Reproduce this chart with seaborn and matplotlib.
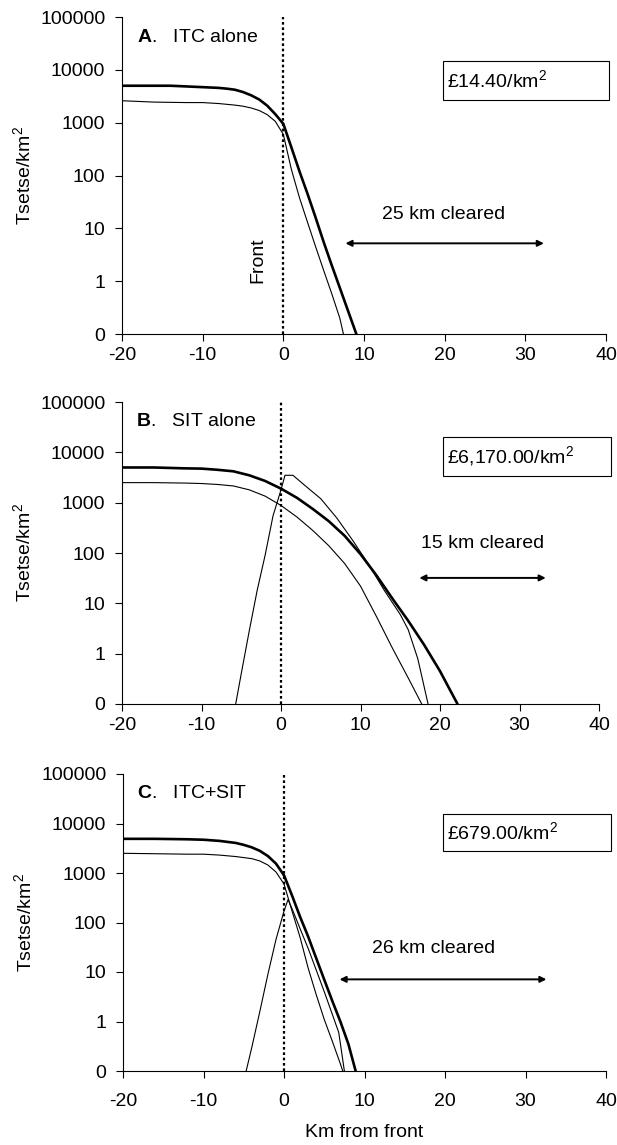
import numpy as np
import pandas as pd
import matplotlib
matplotlib.use('Agg')
import matplotlib.pyplot as plt
import seaborn as sns
from matplotlib.patches import Rectangle

# ==========================================
# data
# ==========================================
# panel A: ITC alone
a_thick_x = [-20, -16, -14, -12, -10, -8, -7, -6, -5, -4, -3, -2, -1, 0,
             1, 2, 3, 4, 5, 6, 7, 8, 9.05]
a_thick_y = [5000, 5000, 5000, 4850, 4700, 4550, 4400, 4200, 3800, 3300, 2750, 2100, 1450, 950,
             340, 120, 45, 16, 5.5, 2.0, 0.75, 0.28, 0.1]
a_thin_x = [-20, -16, -12, -10, -8, -6, -5, -4, -3, -2, -1, 0, 1, 2, 3, 4, 5, 6, 7, 7.45]
a_thin_y = [2600, 2450, 2400, 2400, 2300, 2150, 2050, 1900, 1700, 1420, 1060, 600,
            130, 38, 13, 4.5, 1.6, 0.58, 0.2, 0.1]

# panel B: SIT alone
b_thick_x = [-20, -16, -12, -10, -8, -6, -4, -2, 0, 2, 4, 6, 8, 10, 12, 14, 16, 18, 20, 22.2]
b_thick_y = [5000, 5000, 4800, 4750, 4500, 4200, 3500, 2700, 1900, 1250, 750, 430,
             220, 95, 36, 12.5, 4.5, 1.5, 0.45, 0.1]
b_thin_x = [-20, -16, -12, -10, -8, -6, -4, -2, 0, 2, 4, 6, 8, 10, 12, 14, 16, 17.7]
b_thin_y = [2500, 2500, 2450, 2400, 2300, 2150, 1800, 1350, 880, 520, 280, 140,
            62, 22, 5.5, 1.3, 0.33, 0.1]
b_sit_x = [-5.7, -5, -4, -3, -2, -1, 0, 0.5, 1.5, 3, 5, 7, 9, 11, 13, 15, 16, 17.2, 18.5]
b_sit_y = [0.1, 0.4, 2.8, 18, 90, 550, 1800, 3500, 3500, 2200, 1200, 500,
           180, 60, 18, 6, 3, 0.8, 0.1]

# panel C: ITC+SIT
c_thick_x = [-20, -16, -12, -10, -8, -6, -5, -4, -3, -2, -1, 0,
             1, 2, 3, 4, 5, 6, 7, 8, 8.9]
c_thick_y = [4900, 4900, 4800, 4700, 4450, 4050, 3700, 3300, 2800, 2200, 1550, 900,
             350, 130, 52, 19, 7, 2.6, 1.0, 0.35, 0.1]
c_thin_x = [-20, -16, -12, -10, -8, -6, -4, -3, -2, -1, 0, 1, 2, 3, 4, 5, 6, 7, 7.3]
c_thin_y = [2500, 2450, 2400, 2400, 2300, 2150, 1950, 1750, 1450, 1050, 600,
            170, 50, 12, 3.5, 1.1, 0.4, 0.14, 0.1]
c_sit_x = [-4.7, -4, -3, -2, -1, 0, 0.5, 1, 2, 3, 4, 5, 6, 6.8, 7.5]
c_sit_y = [0.1, 0.3, 1.6, 9, 45, 170, 290, 190, 75, 30, 11, 4, 1.4, 0.6, 0.1]

titles = ['A', 'B', 'C']
subtitles = ['.   ITC alone', '.   SIT alone', '.   ITC+SIT']
costs = [r'£14.40/km$^2$', r'£6,170.00/km$^2$', r'£679.00/km$^2$']
cleared = ['25 km cleared', '15 km cleared', '26 km cleared']
cleared_span = [(7.7, 32.3), (17.4, 33.3), (6.9, 32.6)]
cleared_y = [5.2, 32, 7.1]
cleared_text_x = [19.9, 25.3, 18.6]
cleared_text_y = [18.3, 154, 29.8]

ytick_vals = [0.1, 1, 10, 100, 1000, 10000, 100000]
ytick_labels = ['0', '1', '10', '100', '1000', '10000', '100000']
xtick_vals = [-20, -10, 0, 10, 20, 30, 40]

# ==========================================
# style
# ==========================================
sns.set_style('ticks')
plt.rcParams['font.family'] = ['Liberation Sans', 'DejaVu Sans']
plt.rcParams['mathtext.fontset'] = 'custom'
plt.rcParams['mathtext.rm'] = 'Liberation Sans'
plt.rcParams['mathtext.it'] = 'Liberation Sans'
plt.rcParams['mathtext.bf'] = 'Liberation Sans:bold'
plt.rcParams['font.size'] = 14
plt.rcParams['text.color'] = 'black'
plt.rcParams['axes.labelcolor'] = 'black'
plt.rcParams['xtick.color'] = 'black'
plt.rcParams['ytick.color'] = 'black'

W, H = 617, 1145
fig = plt.figure(figsize=(W / 100, H / 100), dpi=100)

# axes boxes in pixels: left, right, top, bottom
boxes = [(122, 606, 17, 334), (122, 599, 402, 704), (123, 606, 774, 1071)]
cost_boxes = [(443, 609, 61, 100), (443, 611, 437, 476), (443, 611, 814, 851)]
xpads = [4.5, 4, 11]

panels = [
    [(a_thick_x, a_thick_y, 1.9), (a_thin_x, a_thin_y, 0.8)],
    [(b_thick_x, b_thick_y, 1.9), (b_thin_x, b_thin_y, 0.8), (b_sit_x, b_sit_y, 0.8)],
    [(c_thick_x, c_thick_y, 1.9), (c_thin_x, c_thin_y, 0.8), (c_sit_x, c_sit_y, 0.8)],
]

for i, (l, r, t, b) in enumerate(boxes):
    ax = fig.add_axes([l / W, 1 - b / H, (r - l) / W, (b - t) / H])
    for xs, ys, lw in panels[i]:
        df = pd.DataFrame({'x': xs, 'y': ys})
        sns.lineplot(data=df, x='x', y='y', ax=ax, color='black', lw=lw,
                     estimator=None, sort=False)

    ax.set_yscale('log')
    ax.set_ylim(0.1, 100000)
    ax.set_xlim(-20, 40)
    ax.set_yticks(ytick_vals)
    ax.set_yticklabels(ytick_labels)
    ax.set_xticks(xtick_vals)
    ax.set_xticklabels([str(v) for v in xtick_vals])
    ax.minorticks_off()
    ax.tick_params(axis='both', direction='out', length=5, width=0.8,
                   labelsize=14, colors='black')
    ax.tick_params(axis='y', pad=7)
    ax.tick_params(axis='x', pad=xpads[i])
    sns.despine(ax=ax)
    for s in ['left', 'bottom']:
        ax.spines[s].set_linewidth(0.8)
        ax.spines[s].set_color('black')

    ax.axvline(0, color='black', ls=(0, (1.2, 1.2)), lw=1.6)

    ax.set_xlabel('')
    ax.set_ylabel(r'Tsetse/km$^2$', fontsize=14, labelpad=4)

    # panel label: bold letter + normal text
    ax.text(0.03, 0.935, r'$\mathbf{' + titles[i] + '}$' + subtitles[i],
            transform=ax.transAxes, fontsize=14, va='center', ha='left')

    # arrow and cleared text
    x0, x1 = cleared_span[i]
    ax.annotate('', xy=(x1, cleared_y[i]), xytext=(x0, cleared_y[i]),
                arrowprops=dict(arrowstyle='<|-|>', lw=1.4, color='black',
                                mutation_scale=9, shrinkA=0, shrinkB=0))
    ax.text(cleared_text_x[i], cleared_text_y[i], cleared[i], fontsize=14,
            ha='center', va='center')

    if i == 0:
        ax.text(-3.1, 2.5, 'Front', rotation=90, fontsize=14, ha='center', va='center')

    # cost box
    bl, br, bt, bb = cost_boxes[i]
    fig.patches.append(Rectangle((bl / W, 1 - bb / H), (br - bl) / W, (bb - bt) / H,
                                 transform=fig.transFigure, fill=False,
                                 edgecolor='black', lw=0.8))
    fig.text((bl + 4) / W, 1 - (bt + bb) / 2 / H, costs[i], fontsize=14,
             ha='left', va='center')

    if i == 2:
        ax.set_xlabel('Km from front', fontsize=14, labelpad=10)

fig.savefig('out.png', dpi=100)
